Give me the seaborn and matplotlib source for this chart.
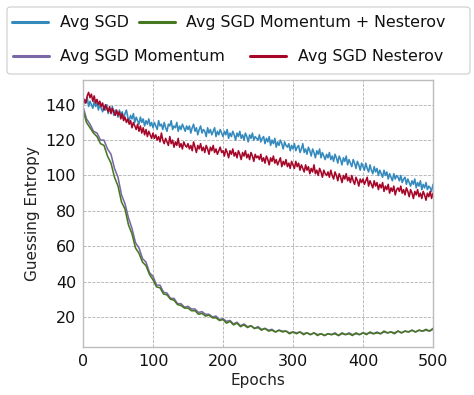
import numpy as np
import pandas as pd
import matplotlib
matplotlib.use("Agg")
import matplotlib.pyplot as plt
from matplotlib.lines import Line2D
from matplotlib.patches import FancyBboxPatch
import seaborn as sns

# fine grid (every 2 epochs) for the slowly-decaying noisy curves
epochs_fine = list(range(0, 501, 2))
# coarse grid (every 5 epochs) for the fast-decaying curves
epochs_coarse = list(range(0, 501, 5))

sgd = [140, 143, 141, 144, 139, 142, 140, 138, 142, 139, 141, 137, 140, 138, 136, 139, 137, 140, 135, 138, 136, 139, 134, 137, 136,
       133, 137, 134, 136, 132, 135, 137, 133, 131, 134, 132, 135, 130, 133, 131, 129, 133, 130, 132, 128, 131, 129, 132, 128, 130,
       127, 130, 128, 126, 131, 128, 129, 126, 130, 127, 125, 129, 128, 131, 126, 128, 127, 130, 125, 128, 126, 129, 127, 125, 128,
       126, 128, 124, 127, 129, 125, 127, 123, 126, 128, 124, 126, 125, 122, 127, 124, 126, 123, 125, 127, 122, 125, 123, 126, 124,
       122, 125, 123, 126, 121, 124, 122, 125, 123, 120, 124, 122, 125, 121, 123, 120, 124, 122, 119, 123, 121, 124, 120, 122, 121,
       120, 123, 119, 121, 122, 118, 121, 119, 122, 117, 120, 118, 121, 116, 119, 117, 120, 118, 115, 119, 117, 116, 118, 114, 117,
       115, 118, 114, 116, 117, 113, 115, 118, 113, 115, 112, 116, 114, 111, 115, 113, 110, 114, 112, 115, 110, 113, 111, 109, 112,
       110, 113, 109, 111, 108, 112, 110, 107, 111, 109, 106, 110, 108, 111, 106, 109, 107, 105, 109, 107, 104, 108, 106, 103, 107,
       105, 103, 107, 104, 102, 106, 103, 101, 105, 102, 104, 100, 103, 101, 99, 103, 100, 102, 98, 101, 99, 97, 101, 98, 100,
       99, 97, 100, 96, 98, 99, 95, 98, 96, 94, 97, 95, 98, 93, 96, 94, 97, 92, 95, 93, 96, 92, 94, 93, 91,
       95]

nesterov = [139, 143, 141, 145, 147, 144, 146, 142, 145, 141, 143, 140, 142, 139, 141, 137, 140, 138, 136, 139, 135, 138, 136, 134, 137,
            134, 136, 132, 135, 131, 133, 130, 132, 129, 131, 127, 130, 128, 126, 129, 125, 128, 124, 127, 123, 126, 122, 125, 123, 121,
            124, 121, 123, 120, 122, 119, 124, 120, 118, 121, 119, 117, 122, 118, 120, 116, 119, 117, 121, 116, 118, 115, 119, 117, 116,
            118, 115, 117, 114, 119, 116, 113, 117, 115, 118, 114, 116, 113, 117, 115, 112, 116, 114, 117, 113, 115, 112, 114, 116, 113,
            114, 111, 115, 113, 110, 114, 112, 115, 111, 113, 110, 114, 112, 109, 113, 111, 114, 110, 112, 109, 113, 111, 108, 112, 110,
            111, 109, 112, 108, 110, 107, 111, 109, 106, 110, 108, 111, 107, 109, 106, 108, 110, 105, 108, 106, 109, 105, 107, 104, 108,
            106, 104, 108, 105, 107, 103, 106, 104, 102, 106, 103, 105, 101, 104, 102, 106, 101, 103, 100, 104, 102, 99, 103, 101, 100,
            102, 99, 103, 100, 98, 102, 100, 97, 101, 99, 96, 100, 98, 101, 97, 99, 96, 100, 97, 95, 99, 97, 94, 98, 96,
            98, 95, 97, 99, 94, 97, 95, 93, 97, 94, 96, 92, 95, 93, 96, 91, 94, 92, 95, 90, 93, 91, 94, 89, 92,
            93, 91, 94, 90, 92, 89, 93, 91, 88, 92, 90, 87, 91, 89, 92, 88, 90, 87, 91, 89, 86, 90, 88, 91, 87,
            90]

momentum_nesterov = [137, 130, 127, 124, 122, 118, 117, 111, 107, 99, 94,
                     85, 81, 72, 67, 59, 56, 51, 49, 44, 41,
                     37, 36.5, 33, 32.5, 30, 29.5, 27, 26.5, 25, 25,
                     23.5, 23.5, 21.5, 22, 20.5, 21, 19.5, 19.5, 18, 18.5,
                     16.5, 17.5, 15.5, 16.5, 14.5, 15.5, 14, 15, 13.5, 14,
                     12.5, 13.5, 12, 12.5, 11.5, 12.5, 11.5, 12, 10.5, 11.5,
                     10.5, 11.5, 10, 11, 10, 11, 9.5, 10.5, 9.5, 10.5,
                     10, 10.5, 9.5, 11, 10, 10.5, 9.5, 11, 10, 11,
                     10, 11.5, 10.5, 11, 10.5, 12, 11, 11.5, 10.5, 12,
                     11, 12, 11.5, 12.5, 11.5, 12.5, 12, 13, 12, 13.5]

momentum = [139, 132, 129, 125, 124, 120, 120, 115, 112, 104, 99,
            89, 84, 76, 70, 62, 59, 53, 51, 45, 43,
            38, 38, 34, 33.5, 30.5, 30.5, 27.5, 27.5, 25.5, 26,
            24.5, 24.5, 22.5, 23, 21.5, 21.5, 20, 20.5, 18.5, 19,
            17.5, 18, 16, 17, 15, 16, 14.5, 15, 13.5, 14.5,
            13, 13.5, 12.5, 13, 11.5, 12.5, 12, 12, 11, 11.5,
            11, 11.5, 10.5, 11, 10, 11, 10, 10.5, 9.5, 10.5,
            10, 11, 9.5, 10.5, 10, 11, 10, 10.5, 10, 11,
            10.5, 11, 10.5, 11.5, 10.5, 11.5, 11, 11.5, 11, 12,
            11, 12, 11.5, 12.5, 11.5, 12.5, 12, 12.5, 12, 13]

labels = ["Avg SGD", "Avg SGD Momentum", "Avg SGD Momentum + Nesterov", "Avg SGD Nesterov"]
colors = ["#348ABD", "#7A68A6", "#467821", "#A60628"]
series = [(epochs_fine, sgd), (epochs_coarse, momentum),
          (epochs_coarse, momentum_nesterov), (epochs_fine, nesterov)]

frames = []
for lab, (xs, vals) in zip(labels, series):
    frames.append(pd.DataFrame({"Epochs": xs, "GE": vals, "Model": lab}))
df = pd.concat(frames, ignore_index=True)

sns.set_style("white")
plt.rcParams["font.family"] = ["DejaVu Sans"]

fig = plt.figure(figsize=(4.74, 3.95), dpi=100)
ax = fig.add_axes([83 / 474, 1 - 347 / 395, 350 / 474, 267 / 395])

palette = dict(zip(labels, colors))
sns.lineplot(data=df, x="Epochs", y="GE", hue="Model", hue_order=labels,
             palette=palette, linewidth=1.15, legend=False, ax=ax)

ax.set_xlim(0, 500)
ax.set_ylim(3, 154)
ax.set_xticks([0, 100, 200, 300, 400, 500])
ax.set_yticks([20, 40, 60, 80, 100, 120, 140])
ax.grid(True, linestyle="--", color="#b0b0b0", linewidth=0.6)
ax.set_axisbelow(True)
for sp in ax.spines.values():
    sp.set_color("#bcbcbc")
    sp.set_linewidth(1.0)
ax.tick_params(axis="both", direction="in", length=4, width=1, color="black",
               labelsize=11.5, labelcolor="#111111", pad=5)
ax.set_xlabel("Epochs", fontsize=11, color="#222222", labelpad=3)
ax.set_ylabel("Guessing Entropy", fontsize=11, color="#222222", labelpad=4)

# legend frame
frame = FancyBboxPatch((7 / 474, 1 - 74 / 395), 463 / 474, 67 / 395,
                       boxstyle="round,pad=0,rounding_size=0.008",
                       transform=fig.transFigure, facecolor="white",
                       edgecolor="#cccccc", linewidth=0.8, zorder=1)
fig.add_artist(frame)

positions = [(12, 23), (13, 57), (139, 23), (250, 57)]
for lab, col, (px, py) in zip(labels, colors, positions):
    h = Line2D([0], [0], color=col, linewidth=2.2)
    lg = fig.legend([h], [lab], loc="center left",
                    bbox_to_anchor=(px / 474, 1 - py / 395),
                    frameon=False, borderpad=0, borderaxespad=0,
                    handlelength=2.25, handletextpad=0.75, fontsize=11.4)
    lg.set_zorder(2)
    for t in lg.get_texts():
        t.set_color("#111111")

fig.savefig("out.png", dpi=100)
